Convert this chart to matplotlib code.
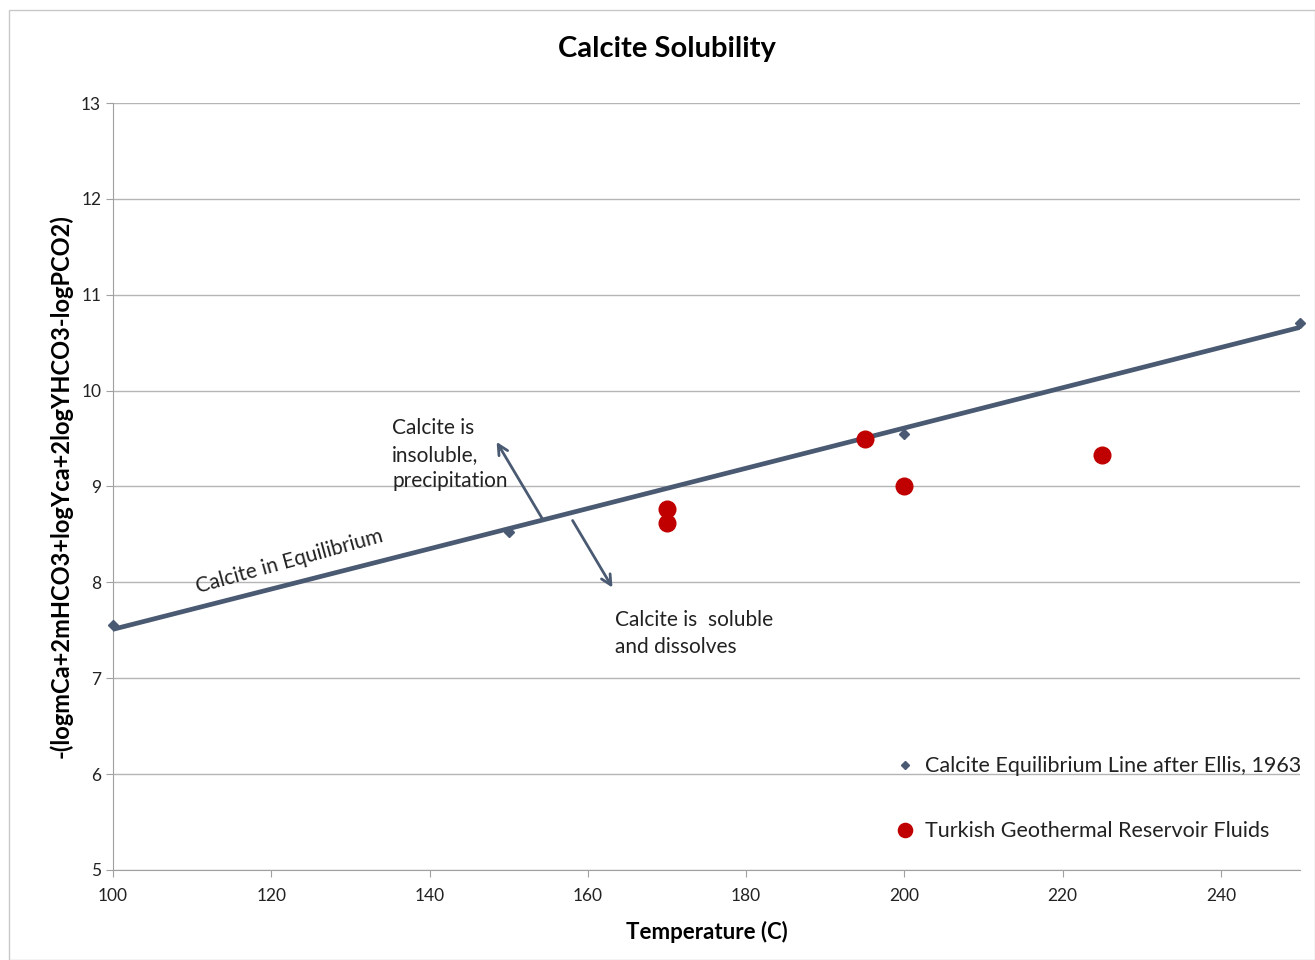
import numpy as np
import matplotlib.pyplot as plt
from matplotlib.patches import Rectangle

# Ellis 1963 equilibrium line points
ellis_t = [100, 150, 200, 250]
ellis_v = [7.55, 8.53, 9.55, 10.71]

# Turkish geothermal reservoir fluids
fluid_t = [170, 170, 195, 200, 225]
fluid_v = [8.77, 8.62, 9.50, 9.01, 9.33]

plt.rcParams['font.family'] = ['Lato', 'DejaVu Sans']

fig = plt.figure(figsize=(13.15, 9.6), dpi=100)
ax = fig.add_axes([0.0859, 0.0938, 0.9027, 0.7989])

fig.patches.append(Rectangle((0.007, 0.0), 0.993, 0.99, transform=fig.transFigure,
                             fill=False, edgecolor='#c8c8c8', lw=1))

line_col = '#4a5a72'
# linear trendline through the Ellis points
k, b = np.polyfit(ellis_t, ellis_v, 1)
tt = np.array([100, 250])
ax.plot(tt, k * tt + b, color=line_col, lw=3.4, zorder=3)

ax.plot(ellis_t, ellis_v, 'D', color=line_col, ms=5, ls='none', zorder=4,
        label='Calcite Equilibrium Line after Ellis, 1963', clip_on=False)
ax.plot(fluid_t, fluid_v, 'o', color='#c00000', ms=12, ls='none', zorder=5,
        label='Turkish Geothermal Reservoir Fluids')

ax.set_xlim(100, 250)
ax.set_ylim(5, 13)
ax.set_xticks(range(100, 250, 20))
ax.set_yticks(range(5, 14))
ax.grid(axis='y', color='#b5b5b5', lw=1)
ax.set_axisbelow(True)
for s in ['top', 'right']:
    ax.spines[s].set_visible(False)
for s in ['left', 'bottom']:
    ax.spines[s].set_color('#a0a0a0')
ax.tick_params(colors='#a0a0a0', labelcolor='#222222', labelsize=12.5, length=5)
ax.tick_params(axis='x', pad=8)

fig.text(0.507, 0.949, 'Calcite Solubility', fontsize=21, fontweight='bold',
         ha='center', va='center')
ax.set_xlabel('Temperature (C)', fontsize=16, fontweight='bold', labelpad=12)
ax.set_ylabel('-(logmCa+2mHCO3+logYca+2logYHCO3-logPCO2)', fontsize=17,
              fontweight='bold', labelpad=6)

# arrows and notes
ax.annotate('', xy=(148.3, 9.49), xytext=(154.5, 8.63),
            arrowprops=dict(arrowstyle='->', color=line_col, lw=2, mutation_scale=18))
ax.annotate('', xy=(163.3, 7.92), xytext=(157.9, 8.67),
            arrowprops=dict(arrowstyle='->', color=line_col, lw=2, mutation_scale=18))
ax.text(135.3, 9.71, 'Calcite is\ninsoluble,\nprecipitation', fontsize=15,
        va='top', ha='left', linespacing=1.4, color='#222222')
ax.text(163.4, 7.71, 'Calcite is  soluble\nand dissolves', fontsize=15,
        va='top', ha='left', linespacing=1.45, color='#222222')
ax.text(122.3, 8.22, 'Calcite in Equilibrium', fontsize=15, rotation=15.5,
        ha='center', va='center', color='#222222', rotation_mode='anchor')

leg = ax.legend(loc='lower left', bbox_to_anchor=(0.64, 0.012), frameon=False,
                fontsize=15.5, labelspacing=2.1, handletextpad=0.35, handlelength=1.2,
                markerscale=0.85)
for t in leg.get_texts():
    t.set_color('#222222')

fig.savefig('out.png', dpi=100)
